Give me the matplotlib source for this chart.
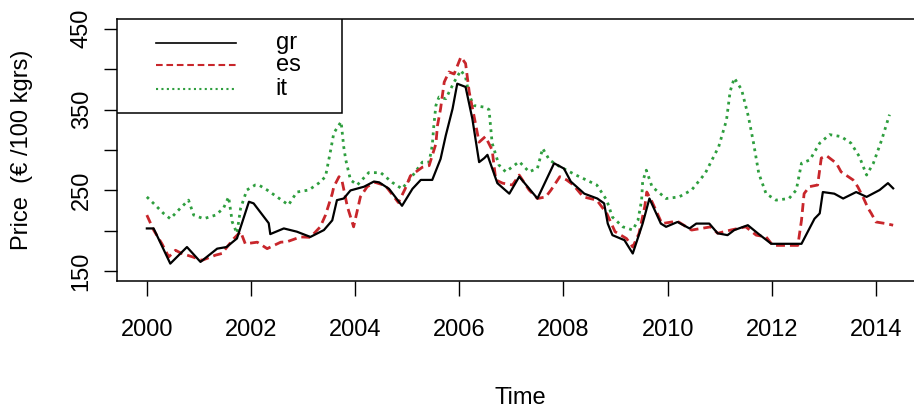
import numpy as np
import matplotlib.pyplot as plt
from matplotlib import font_manager
from matplotlib.patches import Rectangle
from matplotlib.lines import Line2D

# R on windows draws with a narrow Arial look; use the narrow face if it is there
installed = {f.name for f in font_manager.fontManager.ttflist}
if 'Liberation Sans Narrow' in installed:
    plt.rcParams['font.family'] = ['Liberation Sans Narrow', 'DejaVu Sans']
    fs = 20
else:
    plt.rcParams['font.family'] = ['Liberation Sans', 'DejaVu Sans']
    fs = 17

# greek / spanish / italian prices (time in years)
gr_t = [2000.00, 2000.13, 2000.45, 2000.77, 2001.03, 2001.35, 2001.53, 2001.73, 2001.96, 2002.05,
        2002.34, 2002.37, 2002.63, 2002.88, 2003.14, 2003.40, 2003.56, 2003.65, 2003.78, 2003.91,
        2004.17, 2004.36, 2004.46, 2004.65, 2004.90, 2005.10, 2005.26, 2005.48, 2005.64, 2005.74,
        2005.87, 2005.96, 2006.12, 2006.25, 2006.38, 2006.48, 2006.54, 2006.73, 2006.96, 2007.15,
        2007.50, 2007.82, 2008.01, 2008.14, 2008.40, 2008.65, 2008.78, 2008.85, 2008.94, 2009.17,
        2009.33, 2009.52, 2009.65, 2009.87, 2009.97, 2010.19, 2010.42, 2010.55, 2010.80, 2010.96,
        2011.15, 2011.28, 2011.54, 2011.73, 2011.99, 2012.57, 2012.82, 2012.92, 2012.98, 2013.20,
        2013.37, 2013.62, 2013.82, 2014.07, 2014.23, 2014.33]
gr_v = [203, 203, 159.5, 180, 161.6, 178, 180, 190.6, 236, 234,
        209.5, 196, 203, 199, 192.5, 201, 213, 238, 240, 250,
        254.6, 261, 260, 252, 231, 252, 263, 263, 289, 318,
        351, 382, 378, 338.6, 285, 290, 294, 259, 246, 267,
        240, 283.6, 277, 261, 246, 240, 234, 209, 194.7, 188.5,
        172, 209, 240, 209, 205, 211, 203, 209, 209, 197,
        194.7, 201, 207, 197, 184, 184, 215, 221.6, 248, 246,
        240, 248, 242, 250.5, 259, 252.6]

es_t = [2000.00, 2000.13, 2000.29, 2000.42, 2000.55, 2000.67, 2000.87, 2001.06, 2001.32, 2001.44,
        2001.67, 2001.80, 2001.89, 2002.12, 2002.31, 2002.57, 2002.69, 2002.95, 2003.14, 2003.33,
        2003.43, 2003.56, 2003.59, 2003.69, 2003.75, 2003.85, 2003.97, 2004.10, 2004.23, 2004.38,
        2004.58, 2004.83, 2004.96, 2005.06, 2005.29, 2005.42, 2005.55, 2005.58, 2005.64, 2005.71,
        2005.80, 2005.90, 2006.03, 2006.12, 2006.19, 2006.28, 2006.38, 2006.50, 2006.63, 2006.70,
        2006.83, 2007.02, 2007.15, 2007.34, 2007.50, 2007.66, 2007.76, 2007.93, 2008.06, 2008.19,
        2008.38, 2008.64, 2008.83, 2008.99, 2009.21, 2009.33, 2009.45, 2009.56, 2009.60, 2009.70,
        2009.89, 2010.08, 2010.21, 2010.46, 2010.83, 2010.96, 2011.21, 2011.50, 2011.70, 2011.89,
        2012.02, 2012.50, 2012.57, 2012.62, 2012.72, 2012.88, 2012.95, 2013.05, 2013.24, 2013.33,
        2013.56, 2013.65, 2013.75, 2013.85, 2013.91, 2014.00, 2014.19, 2014.33]
es_v = [219.5, 201, 184, 167.8, 176, 172, 168, 163.6, 170, 172,
        190.5, 199, 184, 186, 178, 186, 186.5, 192.5, 192, 205,
        219.5, 246, 254.6, 267, 261, 230, 205, 242, 254.6, 260,
        256, 235, 252, 268, 278.7, 280.7, 307.6, 330, 351, 384,
        396.5, 394, 415, 407, 371.7, 342.7, 309.7, 316.6, 300, 263,
        259, 256.7, 269, 250.5, 240, 242, 250.5, 267, 263, 256.7,
        242, 238, 221.6, 199, 190.5, 180, 196.8, 230, 248, 236,
        209, 211, 211, 201, 205, 197, 201, 205, 194.7, 192.5,
        182, 182, 213, 246, 254.6, 256.7, 290, 293, 283.6, 273,
        263, 254.6, 242, 227.8, 221.6, 211, 209, 207]

it_t = [2000.00, 2000.16, 2000.32, 2000.45, 2000.64, 2000.80, 2000.90, 2001.09, 2001.32, 2001.47,
        2001.57, 2001.64, 2001.73, 2001.80, 2001.92, 2002.08, 2002.15, 2002.31, 2002.50, 2002.72,
        2002.88, 2003.11, 2003.30, 2003.43, 2003.53, 2003.59, 2003.73, 2003.78, 2003.82, 2003.91,
        2004.04, 2004.26, 2004.49, 2004.71, 2004.90, 2005.10, 2005.29, 2005.42, 2005.48, 2005.51,
        2005.55, 2005.61, 2005.74, 2005.90, 2006.03, 2006.12, 2006.19, 2006.28, 2006.48, 2006.57,
        2006.63, 2006.76, 2006.89, 2007.15, 2007.34, 2007.50, 2007.60, 2007.73, 2007.93, 2008.24,
        2008.64, 2008.83, 2008.94, 2009.14, 2009.33, 2009.43, 2009.50, 2009.52, 2009.59, 2009.70,
        2009.97, 2010.22, 2010.46, 2010.72, 2010.98, 2011.13, 2011.20, 2011.28, 2011.42, 2011.55,
        2011.65, 2011.75, 2011.89, 2012.08, 2012.33, 2012.47, 2012.57, 2012.73, 2012.92, 2013.11,
        2013.33, 2013.52, 2013.68, 2013.82, 2013.95, 2014.11, 2014.26]
it_v = [242, 232, 221.6, 215, 227.8, 238, 219.5, 215, 219.5, 227.8,
        242, 211, 197, 227.8, 250.5, 256.7, 256.7, 250.5, 242, 232,
        248, 250.5, 259, 267, 300, 321, 335, 304, 287.7, 263,
        256.7, 272, 272, 260, 252, 268, 285, 285, 305.5, 330,
        355, 365.5, 363.4, 384, 398.5, 390, 367.5, 355, 353, 350,
        308.5, 281.5, 273, 285.6, 273, 277.4, 302, 287.7, 279.4, 269,
        256.7, 238, 217, 205, 201, 213, 238, 261, 275, 254.6,
        240, 242, 250.5, 271, 304, 337, 372.5, 389, 374.6, 341.5,
        308.5, 271, 246, 238, 240, 250.5, 283.6, 287.7, 308.5, 319,
        316.6, 308.5, 292, 269, 283.6, 312.5, 343.7]

names = ['gr', 'es', 'it']
colors = ['black', '#c8262b', '#2e9e3e']
x_ticks = [2000, 2002, 2004, 2006, 2008, 2010, 2012, 2014]
y_ticks = [150, 200, 250, 300, 350, 400, 450]
y_ticklabels = ['150', '', '250', '', '350', '', '450']

fig = plt.figure(figsize=(9.14, 4.09), dpi=100)
ax = fig.add_axes([117 / 914, 128 / 409, 806 / 914, 262 / 409])

styles = [dict(ls='-', lw=1.6),
          dict(ls=(0, (3.2, 1.8)), lw=2.0),
          dict(ls=(0, (1, 1.6)), lw=2.0)]

series = [(gr_t, gr_v), (es_t, es_v), (it_t, it_v)]
# draw it first, gr on top
for i in [2, 1, 0]:
    t, v = series[i]
    ax.plot(t, v, color=colors[i], **styles[i])

t0, t1 = 2000.0, 2014.33
pad = 0.04 * (t1 - t0)
ax.set_xlim(t0 - pad, t1 + pad)
ax.set_ylim(150 - 12, 450 + 12)

ax.set_xticks(x_ticks)
ax.set_yticks(y_ticks)
ax.set_yticklabels(y_ticklabels, rotation=90, va='center')
ax.tick_params(axis='x', length=10.5, width=1, labelsize=fs, pad=17)
ax.tick_params(axis='y', length=9.5, width=1, labelsize=fs, pad=8)
for s in ax.spines.values():
    s.set_linewidth(1.1)

ax.set_xlabel('Time', fontsize=fs, va='center')
ax.xaxis.set_label_coords(0.5, -0.446)
ax.set_ylabel('Price  (€ /100 kgrs)', fontsize=fs, va='center')
ax.yaxis.set_label_coords(-0.118, 0.5)

# legend box in the top-left corner, like R's legend("topleft")
ax.add_patch(Rectangle((0, 0.642), 0.279, 0.358, transform=ax.transAxes,
                       facecolor='white', edgecolor='black', lw=1.1, zorder=5))
rows = [0.909, 0.825, 0.734]
for i in range(3):
    ax.add_line(Line2D([0.0484, 0.1476], [rows[i], rows[i]], transform=ax.transAxes,
                       color=colors[i], zorder=6, ls=styles[i]['ls'],
                       lw=styles[i]['lw'] * 0.75))
    ax.text(0.197, rows[i], names[i], transform=ax.transAxes, fontsize=fs,
            va='center', ha='left', zorder=6)

fig.savefig('out.png', dpi=100)
